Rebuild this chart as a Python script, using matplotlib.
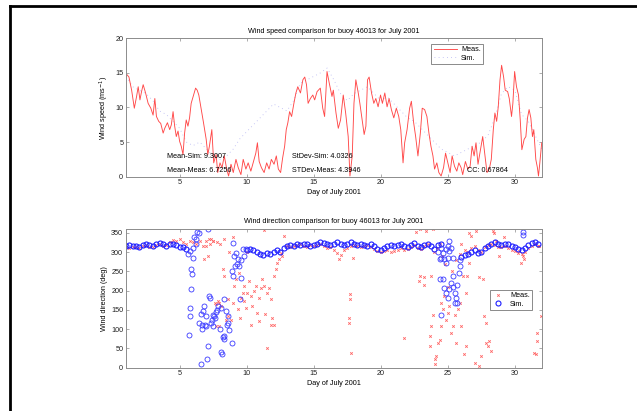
import numpy as np
import matplotlib.pyplot as plt
from matplotlib.lines import Line2D

plt.rcParams['font.family'] = ['Liberation Sans', 'DejaVu Sans']

meas_speed_day = [1.0, 1.05, 1.22, 1.42, 1.62, 1.79, 1.91, 2.04, 2.16, 2.28, 2.46, 2.65,
                  2.85, 3.02, 3.15, 3.27, 3.44, 3.59, 3.77, 3.89, 4.09, 4.26, 4.38, 4.51,
                  4.63, 4.75, 4.88, 5.0, 5.12, 5.25, 5.37, 5.49, 5.62, 5.74, 5.86, 6.04,
                  6.19, 6.31, 6.43, 6.6, 6.78, 6.98, 7.1, 7.22, 7.4, 7.54, 7.72, 7.84,
                  8.01, 8.16, 8.33, 8.51, 8.65, 8.83, 9.0, 9.2, 9.37, 9.57, 9.74, 9.94,
                  10.11, 10.31, 10.51, 10.68, 10.8, 10.93, 11.1, 11.3, 11.49, 11.67, 11.84, 12.04,
                  12.21, 12.36, 12.53, 12.68, 12.83, 12.95, 13.07, 13.2, 13.35, 13.52, 13.67, 13.81,
                  14.01, 14.19, 14.33, 14.46, 14.58, 14.75, 14.93, 15.07, 15.25, 15.49, 15.67, 15.81,
                  15.99, 16.16, 16.36, 16.46, 16.66, 16.83, 17.0, 17.2, 17.38, 17.57, 17.7, 17.87,
                  18.0, 18.14, 18.32, 18.44, 18.61, 18.76, 18.89, 19.01, 19.13, 19.31, 19.48, 19.63,
                  19.8, 19.98, 20.12, 20.3, 20.47, 20.62, 20.79, 20.97, 21.16, 21.34, 21.49, 21.66,
                  21.78, 21.96, 22.15, 22.28, 22.45, 22.6, 22.77, 22.95, 23.09, 23.27, 23.44, 23.59,
                  23.74, 23.89, 24.01, 24.18, 24.33, 24.5, 24.68, 24.83, 25.0, 25.17, 25.32, 25.5,
                  25.67, 25.82, 25.99, 26.11, 26.31, 26.49, 26.66, 26.81, 26.96, 27.1, 27.25, 27.43,
                  27.6, 27.77, 27.92, 28.09, 28.24, 28.39, 28.51, 28.64, 28.76, 28.89, 29.01, 29.16,
                  29.28, 29.46, 29.58, 29.75, 29.85, 29.98, 30.12, 30.27, 30.4, 30.52, 30.69, 30.82,
                  30.94, 31.06, 31.19, 31.31, 31.41, 31.56, 31.68, 31.76, 31.86, 32.0]
meas_speed = [14.3, 14.8, 14.4, 12.5, 9.9, 11.6, 13.0, 11.1, 12.3, 13.3, 12.1, 10.6,
              9.9, 8.9, 11.3, 8.7, 8.0, 7.7, 6.3, 7.0, 7.8, 6.8, 7.5, 9.4,
              7.3, 5.8, 6.6, 5.1, 4.4, 3.2, 6.3, 8.2, 7.3, 8.5, 10.6, 11.8,
              12.8, 12.5, 11.8, 9.9, 7.8, 5.4, 3.2, 4.4, 6.8, 2.0, 3.2, 0.6,
              2.0, 1.3, 3.0, 1.1, 0.1, 1.8, 0.6, 2.5, 1.3, 0.3, 2.5, 1.1,
              2.0, 0.8, 2.2, 3.4, 4.9, 2.2, 1.3, 0.6, 2.0, 1.1, 2.5, 1.8,
              3.0, 1.1, 0.6, 2.7, 4.4, 6.8, 7.8, 9.4, 8.7, 10.6, 12.1, 13.0,
              12.1, 14.0, 14.4, 13.3, 10.6, 11.3, 11.8, 11.1, 12.3, 12.8, 9.9, 8.7,
              15.2, 13.5, 11.6, 12.5, 9.2, 7.0, 8.2, 11.8, 9.2, 5.8, 0.1, 3.0,
              10.6, 14.0, 12.1, 10.6, 8.2, 6.1, 7.3, 14.0, 14.4, 12.1, 10.6, 11.3,
              10.1, 11.8, 10.6, 12.1, 10.1, 11.3, 9.7, 8.5, 9.9, 8.7, 6.8, 2.0,
              4.9, 6.8, 9.9, 10.9, 7.8, 5.8, 3.0, 6.3, 9.9, 9.7, 8.7, 6.3,
              4.4, 3.0, 1.1, 2.0, 0.6, 0.1, 1.3, 3.4, 2.0, 0.6, 3.0, 1.5,
              0.8, 2.0, 1.3, 0.3, 2.2, 1.1, 1.5, 4.4, 3.0, 4.9, 1.8, 3.9,
              5.8, 3.0, 0.6, 1.1, 2.5, 6.8, 9.2, 8.0, 10.1, 14.0, 16.1, 14.4,
              12.5, 12.3, 11.3, 8.7, 10.6, 15.2, 13.0, 11.8, 8.2, 3.9, 5.4, 5.8,
              8.5, 9.7, 8.5, 5.8, 6.8, 2.5, 1.3, 0.1, 2.0, 4.9]

# ---- wind speed, simulated ----
sim_speed_day = [1.0, 1.5, 2.0, 2.5, 3.0, 3.5, 4.0, 4.5, 5.0, 5.5, 6.0, 6.5, 7.0, 7.5, 8.0, 8.5,
                 9.0, 9.5, 10.0, 10.5, 11.0, 11.5, 12.0, 12.5, 13.0, 13.5, 14.0, 14.5, 15.0, 15.5,
                 16.0, 16.5, 17.0, 17.5, 18.0, 18.5, 19.0, 19.5, 20.0, 20.5, 21.0, 21.5, 22.0,
                 22.5, 23.0, 23.5, 24.0, 24.5, 25.0, 25.5, 26.0, 26.5, 27.0, 27.5, 28.0, 28.5,
                 29.0, 29.5, 30.0, 30.5, 31.0, 31.5, 32.0]
sim_speed = [14.5, 13.0, 12.5, 12.0, 11.0, 9.5, 9.0, 8.0, 7.0, 5.0, 4.5, 5.0, 4.0, 3.0, 2.5, 3.0,
             4.0, 5.5, 6.5, 7.5, 8.5, 9.5, 10.5, 10.0, 9.5, 11.0, 13.5, 14.0, 14.5, 15.0,
             15.7, 14.0, 12.0, 11.0, 12.0, 12.5, 13.0, 12.0, 11.0, 11.5, 10.5, 9.5, 8.5,
             8.0, 7.0, 6.0, 5.0, 4.0, 3.5, 3.0, 3.5, 4.0, 4.5, 5.0, 6.0, 8.5,
             12.0, 13.0, 12.5, 9.0, 8.0, 6.0, 4.0]

stats_left = ['Mean-Sim: 9.3007', 'Mean-Meas: 6.7256']
stats_mid = ['StDev-Sim: 4.0326', 'STDev-Meas: 4.3946']
stats_cc = 'CC: 0.67864'

# ---- wind direction: steady band, four samples per day (NaN = scattered period) ----
nan = np.nan
sim_dir_band = [
    316, 318, 317, 315,  314, 318, 321, 319,  316, 320, 323, 320,  317, 320, 322, 318,
    314, 312, 308, nan,  nan, nan, nan, nan,  nan, nan, nan, nan,  nan, nan, nan, nan,
    nan, nan, nan, nan,  305, 307, 305, 300,  295, 293, 297, 295,  300, 305, 300, 310,
    315, 318, 316, 320,  318, 322, 320, 316,  318, 322, 325, 323,  320, 318, 322, 325,
    322, 318, 320, 325,  322, 318, 322, 318,  315, 320, 315, 308,  305, 310, 315, 318,
    315, 318, 320, 316,  312, 318, 323, 316,  312, 318, 322, 315,  308, 318, 322, nan,
    nan, nan, nan, nan,  288, 292, 296, 300,  305, 298, 300, 310,  315, 322, 326, 322,
    318, 320, 322, 315,  312, 308, 305, 310,  318, 324, 326, 320]
meas_dir_band = [
    312, 310, 314, 312,  310, 315, 318, 314,  312, 318, 322, 316,  318, 325, 332, 328,
    335, 325, 322, 330,  325, 320, 328, 315,  330, 320, nan, nan,  nan, nan, nan, nan,
    nan, nan, nan, nan,  nan, nan, nan, nan,  nan, nan, nan, nan,  nan, nan, nan, nan,
    315, 312, 316, 318,  320, 315, 312, 318,  315, 318, 320, 316,  310, 312, 305, 298,
    292, 305, 310, 315,  318, 316, 312, 315,  318, 314, 308, 302,  300, 302, 305, 300,
    302, 306, 310, 305,  308, 312, 318, 310,  308, 315, 320, nan,  nan, nan, nan, nan,
    nan, nan, nan, nan,  nan, 305, 300, 310,  315, 305, 300, 312,  318, 322, 318, 314,
    312, 316, 310, 305,  302, 298, 295, 300,  310, 316, 320, 315]
band_day = np.arange(1, 32, 0.25)

# ---- wind direction: scattered points (day, deg) ----
meas_scatter_day = [6.85, 6.98, 7.1, 7.35, 7.47, 7.6, 7.72, 7.84, 7.96, 8.2, 8.33, 8.58, 8.45, 8.83,
                    9.2, 9.44, 9.32, 9.57, 9.69, 9.81, 10.06, 10.18, 10.31, 10.43, 10.55, 10.68,
                    10.8, 10.93, 11.05, 11.17, 11.3, 11.49, 11.55, 11.67, 11.79, 11.91, 11.85,
                    12.04, 12.16, 12.28, 12.4, 12.53, 12.65, 12.78, 8.09, 7.9, 7.72, 9.07, 8.33,
                    8.95, 8.58, 9.81, 9.94, 11.3, 7.2, 7.5, 7.8, 8.0, 8.7, 9.0, 10.0, 10.3, 9.5,
                    12.0, 10.9, 11.4,
                    17.7, 17.72, 17.65, 17.62, 17.8, 17.9, 16.9,
                    21.7, 22.6, 22.9, 22.9, 22.85, 23.2, 23.25, 23.4, 23.9,
                    23.76, 23.89, 23.76, 23.64, 23.64, 24.01, 24.01, 24.13, 24.26, 24.38, 24.5,
                    24.63, 24.5, 24.75, 24.88, 25.0, 25.12, 25.25, 25.37, 25.5, 25.62, 25.74,
                    25.87, 25.98, 26.11, 26.36, 26.45, 26.6, 26.36, 26.24, 26.61, 26.75, 24.0,
                    24.2, 24.4, 24.6, 24.8, 25.0, 25.3, 25.6, 25.9, 26.0,
                    27.1, 27.0, 27.35, 27.48, 27.72, 27.85, 27.85, 27.97, 28.1, 28.22, 28.34,
                    28.47, 28.6, 28.84, 30.3, 30.57, 30.7, 30.45, 31.44, 31.56, 31.68, 31.68,
                    31.93, 31.8, 29.2, 27.6, 27.3]
meas_scatter_dir = [281, 316, 290, 333, 328, 169, 164, 173, 108, 255, 238, 134, 125, 125,
                    229, 246, 151, 182, 195, 212, 195, 225, 186, 160, 198, 212,
                    143, 182, 207, 229, 212, 52, 195, 207, 112, 130, 177,
                    238, 255, 272, 281, 298, 290, 342, 160, 168, 108, 212, 333,
                    169, 177, 173, 156, 358, 335, 330, 325, 320, 300, 340, 300, 110, 130,
                    110, 120, 140,
                    190, 177, 130, 117, 39, 285, 282,
                    78, 352, 359, 238, 225, 235, 215, 355, 359,
                    238, 138, 108, 82, 56, 22, 9, 30, 65, 72, 108,
                    151, 169, 186, 125, 143, 160, 91, 108, 138, 65, 151,
                    169, 108, 238, 195, 238, 272, 56, 35, 350, 342, 300,
                    310, 320, 290, 270, 210, 250, 280, 295, 320,
                    355, 13, 4, 30, 134, 117, 65, 56, 69, 43, 355,
                    350, 330, 290, 303, 290, 281, 272, 39, 35, 91, 69,
                    134, 315, 340, 230, 235]
sim_scatter_day = [5.62, 5.74, 5.99, 5.86, 5.94, 5.86, 5.74, 5.74, 5.69, 6.31, 6.41, 6.23, 6.1,
                   7.1, 6.56, 6.73, 6.85, 6.48, 6.65, 6.98, 7.22, 7.3, 7.47, 7.59, 7.72, 7.84,
                   8.09, 8.33, 8.46, 8.58, 8.63, 8.7, 8.33, 8.28, 8.88, 7.1, 7.05, 8.09, 8.14,
                   7.35, 7.47, 6.98, 6.9, 9.07, 9.2, 9.32, 8.88, 8.95, 9.57, 9.52, 8.95, 9.1,
                   9.69, 9.81, 9.94, 6.0, 6.2, 7.4, 7.6, 7.75, 8.0, 8.2, 8.5, 9.3, 9.6, 9.4,
                   6.6, 6.7,
                   24.38, 24.5, 24.63, 24.88, 25.0, 25.12, 24.75, 24.88, 25.0, 25.12, 25.25,
                   25.37, 24.63, 24.75, 24.88, 25.12, 25.25, 25.37, 25.5, 25.6, 25.7, 25.67,
                   25.57, 25.87, 25.8, 24.5, 25.0, 25.37, 24.4, 24.3, 25.9, 24.5,
                   30.6, 30.62]
sim_scatter_dir = [294, 303, 285, 255, 242, 205, 156, 134, 84, 352, 349, 333, 340,
                   359, 9, 147, 160, 117, 112, 108, 186, 182, 138, 134, 144, 160,
                   156, 179, 147, 134, 117, 99, 82, 74, 65, 56, 22, 41, 35,
                   117, 108, 134, 110, 290, 298, 281, 251, 238, 234, 177, 324, 264,
                   307, 290, 307, 310, 320, 125, 130, 150, 100, 80, 110, 270, 280, 265,
                   140, 100,
                   281, 285, 298, 307, 316, 329, 281, 272, 285, 303, 311,
                   285, 229, 208, 195, 203, 221, 210, 195, 180, 215, 169,
                   169, 264, 245, 138, 182, 238, 230, 300, 280, 310,
                   352, 345]

day_ticks = [5, 10, 15, 20, 25, 30]
FS = 5.2
AX_GREY = '#8c8c8c'


def style_axes(ax, ylim, yticks):
    ax.set_xlim(1, 32)
    ax.set_ylim(*ylim)
    ax.set_xticks(day_ticks)
    ax.set_yticks(yticks)
    ax.tick_params(direction='in', top=True, right=True, length=2.5, width=0.5,
                   colors=AX_GREY, labelcolor='#222222', labelsize=FS, pad=2)
    for sp in ax.spines.values():
        sp.set_color(AX_GREY)
        sp.set_linewidth(0.7)


fig = plt.figure(figsize=(6.37, 4.11), dpi=100)

# outer frame (top and left edges only)
fig.add_artist(Line2D([0.0157, 1.0], [0.9854, 0.9854], transform=fig.transFigure, color='black', lw=2))
fig.add_artist(Line2D([0.0157, 0.0157], [0.9854, 0.0], transform=fig.transFigure, color='black', lw=2))

# --- top: wind speed ---
ax1 = fig.add_axes([0.1978, 0.5701, 0.6526, 0.3367])
ax1.plot(sim_speed_day, sim_speed, color='#b4b4f2', lw=0.6, ls=(0, (1, 4)), label='Sim.')
ax1.plot(meas_speed_day, meas_speed, color='#ff4848', lw=0.65, label='Meas.')
style_axes(ax1, (0, 20), [0, 5, 10, 15, 20])
ax1.set_title('Wind speed comparison for buoy 46013 for July 2001', fontsize=FS, pad=4)
ax1.set_xlabel('Day of July 2001', fontsize=FS, labelpad=2)
ax1.set_ylabel(r'Wind speed (ms$^{-1}$)', fontsize=FS, labelpad=3)
ax1.text(4.03, 2.9, stats_left[0], fontsize=FS, va='center')
ax1.text(4.03, 0.9, stats_left[1], fontsize=FS, va='center')
ax1.text(13.36, 2.9, stats_mid[0], fontsize=FS, va='center')
ax1.text(13.36, 0.9, stats_mid[1], fontsize=FS, va='center')
ax1.text(26.4, 0.9, stats_cc, fontsize=FS, va='center')
h, l = ax1.get_legend_handles_labels()
leg1 = ax1.legend(h[::-1], l[::-1], loc='upper left', bbox_to_anchor=(0.726, 0.985), fontsize=FS,
                  frameon=True, fancybox=False, edgecolor='#555555', handlelength=3.2,
                  borderpad=0.3, labelspacing=0.2, handletextpad=0.6)
leg1.get_frame().set_linewidth(0.6)

# --- bottom: wind direction ---
ax2 = fig.add_axes([0.1978, 0.1054, 0.6526, 0.3375])
ax2.plot(band_day, meas_dir_band, ls='none', marker='x', ms=1.8, mew=0.6, color='#ff6464', label='Meas.')
ax2.plot(meas_scatter_day, meas_scatter_dir, ls='none', marker='x', ms=1.8, mew=0.6, color='#ff6464')
ax2.plot(band_day, sim_dir_band, ls='none', marker='o', ms=3.6, mew=0.8, mfc='none', color='#1e1eff', label='Sim.')
ax2.plot(sim_scatter_day, sim_scatter_dir, ls='none', marker='o', ms=3.6, mew=0.6, mfc='none', color='#3a3aff')
style_axes(ax2, (0, 360), [0, 50, 100, 150, 200, 250, 300, 350])
ax2.set_title('Wind direction comparison for buoy 46013 for July 2001', fontsize=FS, pad=4)
ax2.set_xlabel('Day of July 2001', fontsize=FS, labelpad=2)
ax2.set_ylabel('Wind direction (deg)', fontsize=FS, labelpad=2)
leg2 = ax2.legend(loc='upper left', bbox_to_anchor=(0.868, 0.585), fontsize=FS, frameon=True,
                  fancybox=False, edgecolor='#555555', handlelength=1.6, borderpad=0.3,
                  labelspacing=0.2, handletextpad=0.8)
leg2.get_frame().set_linewidth(0.6)

fig.savefig('out.png', dpi=100)
